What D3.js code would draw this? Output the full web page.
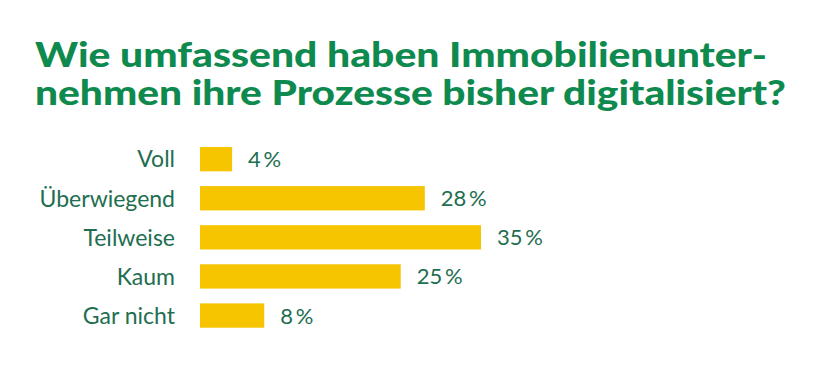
<!DOCTYPE html>
<html><head><meta charset="utf-8">
<script src="https://cdn.jsdelivr.net/npm/d3@7"></script>
<style>body{margin:0;background:#fff}svg{display:block}</style>
</head><body>
<svg id="c" width="820" height="390"></svg>
<script>
const titleLines = ["Wie umfassend haben Immobilienunter-", "nehmen ihre Prozesse bisher digitalisiert?"];
const categories = ["Voll", "Überwiegend", "Teilweise", "Kaum", "Gar nicht"];
const values = [4, 28, 35, 25, 8];

const svg = d3.select("#c");
const titleColor = "#0f8a4f", textColor = "#1e6e50", barColor = "#f7c400";

// title
const titleWidths = [732, 751];
const tg = svg.append("g");
titleLines.forEach((t, i) => {
  tg.append("text").attr("x", 35).attr("y", 67 + i * 38)
    .attr("font-family", "Lato, sans-serif").attr("font-weight", 900)
    .attr("font-size", 34).attr("fill", titleColor).text(t)
    .attr("textLength", titleWidths[i]).attr("lengthAdjust", "spacingAndGlyphs");
});

const x = d3.scaleLinear().domain([0, 35]).range([200, 481]);
const y = d3.scaleBand().domain(categories).range([147, 327.7]).paddingInner(0.378).paddingOuter(0);

svg.append("g").selectAll("rect").data(categories).join("rect")
  .attr("x", x(0)).attr("y", d => y(d))
  .attr("width", (d, i) => x(values[i]) - x(0))
  .attr("height", y.bandwidth()).attr("fill", barColor);

const yAxis = d3.axisLeft(y).tickSize(0).tickPadding(0);
const ag = svg.append("g").attr("transform", `translate(175,0)`).call(yAxis);
ag.select(".domain").remove();
ag.selectAll("text").attr("font-family", "Lato, sans-serif").attr("font-size", 23)
  .attr("fill", textColor).attr("dy", "0.36em");

svg.append("g").selectAll("text").data(categories).join("text")
  .attr("x", (d, i) => x(values[i]) + 16)
  .attr("y", d => y(d) + y.bandwidth() / 2 + 8)
  .attr("font-family", "Lato, sans-serif").attr("font-size", 22)
  .attr("fill", textColor)
  .text((d, i) => values[i] + "\u2009%");
</script>
</body></html>
